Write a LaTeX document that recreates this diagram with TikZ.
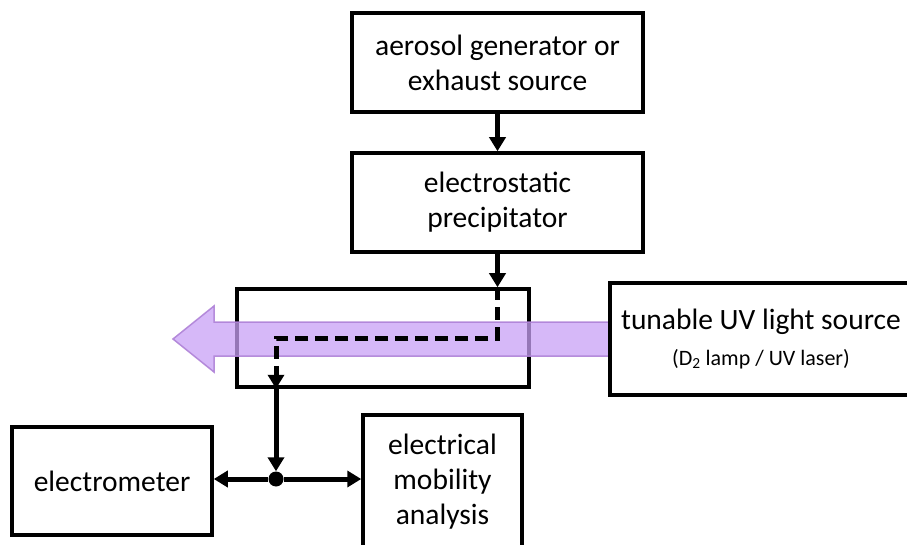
\documentclass[tikz,border=0pt]{standalone}
\usepackage{fontspec}
\setmainfont{Carlito}
\usetikzlibrary{arrows.meta,calc}
\definecolor{uvfill}{RGB}{200,160,245}
\definecolor{uvline}{RGB}{175,130,215}
\begin{document}
\begin{tikzpicture}[x=1pt,y=-1pt,
  box/.style={draw,line width=3.5pt,align=center,inner sep=0pt,
    font=\fontsize{29.5}{35}\selectfont},
  flow/.style={draw,line width=5pt,-{Triangle[width=16pt,length=14pt]}},
  dflow/.style={flow,dash pattern=on 13pt off 7pt},
  jdot/.style={circle,fill,inner sep=0pt,minimum size=15pt}]
\useasboundingbox (0,0) rectangle (907,545);
\clip (0,0) rectangle (907,545);
\node[box,minimum width=291pt,minimum height=99pt] (src) at (497.5,62.5)
  {aerosol generator or\\exhaust source};
\node[box,minimum width=291pt,minimum height=99pt] (esp) at (497.5,202.5)
  {electrostatic\\precipitator};
\node[box,minimum width=292pt,minimum height=98pt] (ch) at (383,338) {};
\node[box,minimum width=200pt,minimum height=108pt] (em) at (112,481) {electrometer};
\node[box,minimum width=159pt,minimum height=134pt] (mob) at (442.5,482)
  {electrical\\mobility\\analysis};
\node[jdot] (jn) at (276,479) {};
% UV beam
\fill[uvfill,fill opacity=0.75,draw=uvline,draw opacity=0.9,line width=1.5pt]
  (173,339) -- (214,306) -- (214,322) -- (612,322) -- (612,356) -- (214,356) -- (214,372) -- cycle;
\node[box,fill=white,minimum width=302pt,minimum height=112pt] (uv) at (761,339)
  {tunable UV light source\\[1pt]{\fontsize{22}{26}\selectfont (D\textsubscript{2} lamp / UV laser)}};
% flows
\draw[flow] (src.south) -- (esp.north);
\coordinate (in) at (esp.south |- ch.north);
\draw[flow] (esp.south) -- (in);
\draw[dflow] (in) |- (jn |- ch.center) -- (jn |- ch.south);
\draw[flow] (jn |- ch.south) -- (jn.north);
\draw[flow] (jn) -- (jn -| em.east);
\draw[flow] (jn) -- (jn -| mob.west);
\end{tikzpicture}
\end{document}
